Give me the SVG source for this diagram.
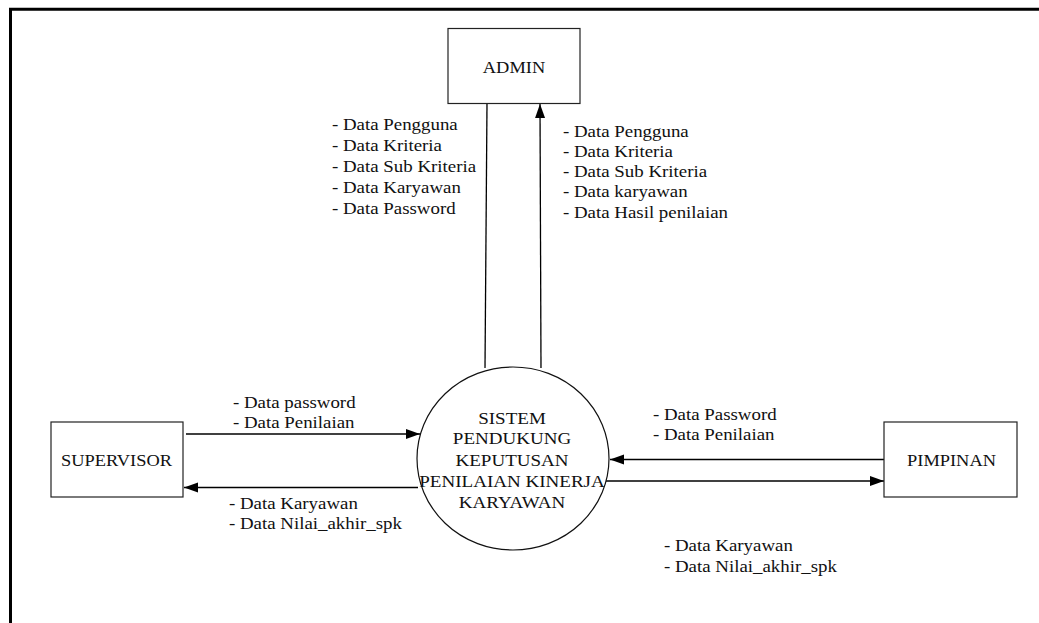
<svg xmlns="http://www.w3.org/2000/svg" width="1039" height="623" viewBox="0 0 1039 623">
<style>
text{font-family:"Liberation Serif","Times New Roman",serif;fill:#111;}
.lbl{font-size:16px;}
.box{fill:#fff;stroke:#222;stroke-width:1.2;}
.name{font-size:16px;text-anchor:middle;}
.proc{font-size:17px;text-anchor:middle;}
.flow{fill:none;stroke:#000;stroke-width:1.3;}
</style>
<defs>
<marker id="ah" markerUnits="userSpaceOnUse" markerWidth="15" markerHeight="11" refX="14" refY="5" orient="auto">
<path d="M0,0 L14,5 L0,10 Z" fill="#000"/>
</marker>
</defs>
<rect x="0" y="0" width="1039" height="623" fill="#fff"/>
<path d="M10.5,623 V9.3 H1039" fill="none" stroke="#000" stroke-width="3"/>

<g id="connectors">
<line class="flow" x1="487" y1="103" x2="485" y2="368"/>
<line class="flow" x1="541" y1="368" x2="540" y2="104" marker-end="url(#ah)"/>
<line class="flow" x1="186" y1="434" x2="420" y2="434" marker-end="url(#ah)"/>
<line class="flow" x1="418" y1="487.5" x2="184" y2="487.5" marker-end="url(#ah)"/>
<line class="flow" x1="884" y1="459.5" x2="610" y2="459.5" marker-end="url(#ah)"/>
<line class="flow" x1="606" y1="481" x2="884" y2="481" marker-end="url(#ah)"/>
</g>

<g id="labels">
<text class="lbl" transform="translate(332,130) scale(1.18,1)"><tspan x="0" y="0">- Data Pengguna</tspan><tspan x="0" y="21">- Data Kriteria</tspan><tspan x="0" y="42">- Data Sub Kriteria</tspan><tspan x="0" y="63">- Data Karyawan</tspan><tspan x="0" y="84">- Data Password</tspan></text>
<text class="lbl" transform="translate(563,136.5) scale(1.18,1)"><tspan x="0" y="0">- Data Pengguna</tspan><tspan x="0" y="20.3">- Data Kriteria</tspan><tspan x="0" y="40.6">- Data Sub Kriteria</tspan><tspan x="0" y="60.9">- Data karyawan</tspan><tspan x="0" y="81.2">- Data Hasil penilaian</tspan></text>
<text class="lbl" transform="translate(233,407.5) scale(1.18,1)"><tspan x="0" y="0">- Data password</tspan><tspan x="0" y="21">- Data Penilaian</tspan></text>
<text class="lbl" transform="translate(229,508.5) scale(1.18,1)"><tspan x="0" y="0">- Data Karyawan</tspan><tspan x="0" y="20.7">- Data Nilai_akhir_spk</tspan></text>
<text class="lbl" transform="translate(653,419.5) scale(1.18,1)"><tspan x="0" y="0">- Data Password</tspan><tspan x="0" y="20.7">- Data Penilaian</tspan></text>
<text class="lbl" transform="translate(664,551) scale(1.18,1)"><tspan x="0" y="0">- Data Karyawan</tspan><tspan x="0" y="20.7">- Data Nilai_akhir_spk</tspan></text>
</g>

<g id="admin">
<rect class="box" x="448" y="28.5" width="132" height="75"/>
<text class="name" transform="translate(514,72.5) scale(1.15,1)">ADMIN</text>
</g>
<g id="supervisor">
<rect class="box" x="51" y="422" width="132" height="75"/>
<text class="name" transform="translate(116.5,466) scale(1.15,1)">SUPERVISOR</text>
</g>
<g id="pimpinan">
<rect class="box" x="884" y="422" width="133" height="75"/>
<text class="name" transform="translate(951.5,466) scale(1.15,1)">PIMPINAN</text>
</g>
<g id="sistem">
<ellipse cx="513" cy="458.5" rx="96" ry="91.5" fill="#fff" stroke="#111" stroke-width="1.2"/>
<text class="proc" transform="translate(512,423.5) scale(1.12,1)"><tspan x="0" y="0">SISTEM</tspan><tspan x="0" y="21">PENDUKUNG</tspan><tspan x="0" y="42.5">KEPUTUSAN</tspan><tspan x="0" y="63.3">PENILAIAN KINERJA</tspan><tspan x="0" y="84.3">KARYAWAN</tspan></text>
</g>
</svg>
